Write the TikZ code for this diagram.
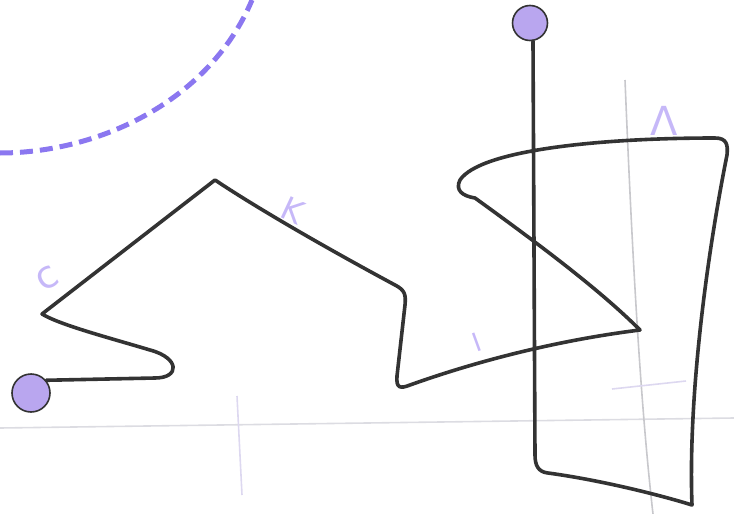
\documentclass[tikz,border=0pt]{standalone}
\usepackage{fontspec}
\setsansfont{DejaVu Sans}
\definecolor{ink}{HTML}{333333}
\definecolor{dotfill}{HTML}{B9A6EF}
\definecolor{arcpurple}{HTML}{8B77F0}
\definecolor{lblpurple}{HTML}{C6B8F8}
\definecolor{guidegray}{HTML}{DCDCE2}
\definecolor{guidegray2}{HTML}{C8C8CC}
\definecolor{guidelav}{HTML}{DDD8F0}
\tikzset{
  sketch/.style={draw=ink, line width=3.6pt, line cap=round, line join=round},
  endpoint/.style={circle, fill=dotfill, draw=ink, line width=1.6pt, inner sep=0pt},
  lbl/.style={text=lblpurple, font=\sffamily\fontsize{32}{32}\selectfont, inner sep=0pt},
  arcline/.style={draw=arcpurple, line width=5pt, dash pattern=on 13pt off 7pt},
  guide/.style={line width=1.6pt}
}
\begin{document}
\begin{tikzpicture}[x=1pt,y=-1pt]
\useasboundingbox (0,0) rectangle (734,514);
% guide lines
\draw[guide, draw=guidegray] (0,428) -- (734,418);
\draw[guide, draw=guidegray2] (625,80) .. controls (632,250) and (640,400) .. (653,514);
\draw[guide, draw=guidelav] (237,396) -- (242,495);
\draw[guide, draw=guidelav] (612,389) -- (686,381);
% dashed arc
\draw[arcline] (0,153) .. controls (100,153) and (210,100) .. (252,0);
% endpoints
\node[endpoint, minimum size=38pt] (n1) at (31,393) {};
\node[endpoint, minimum size=35pt] (n2) at (530,23) {};
% main path
\draw[sketch] (n1.40) -- (155,378) .. controls (180,378) and (180,358) .. (150,350)
  .. controls (110,338) and (60,325) .. (42,314)
  -- (215,180)
  .. controls (260,210) and (330,250) .. (395,285)
  .. controls (405,290) and (406,295) .. (405,305)
  -- (397,376) .. controls (396,388) and (400,389) .. (410,385)
  .. controls (480,360) and (560,340) .. (640,330)
  .. controls (600,290) and (540,245) .. (475,198)
  .. controls (462,196) and (455,190) .. (460,180)
  .. controls (480,150) and (600,138) .. (715,138)
  .. controls (727,138) and (728,145) .. (727,155)
  .. controls (706,260) and (688,400) .. (692,505)
  .. controls (660,495) and (600,480) .. (548,473)
  .. controls (538,472) and (535,465) .. (535,455)
  -- (n2.south -| 533,0);
% labels
\node[lbl, rotate=30, font=\sffamily\fontsize{38}{38}\selectfont] (lc) at (47,278) {c};
\node[lbl, rotate=-25] (lk) at (293,210) {K};
\node[lbl, rotate=20, font=\sffamily\fontsize{26}{26}\selectfont] (li) at (477,342) {I};
\node[lbl, font=\sffamily\fontsize{40}{40}\selectfont] (ll) at (664,121) {Λ};
\end{tikzpicture}
\end{document}
